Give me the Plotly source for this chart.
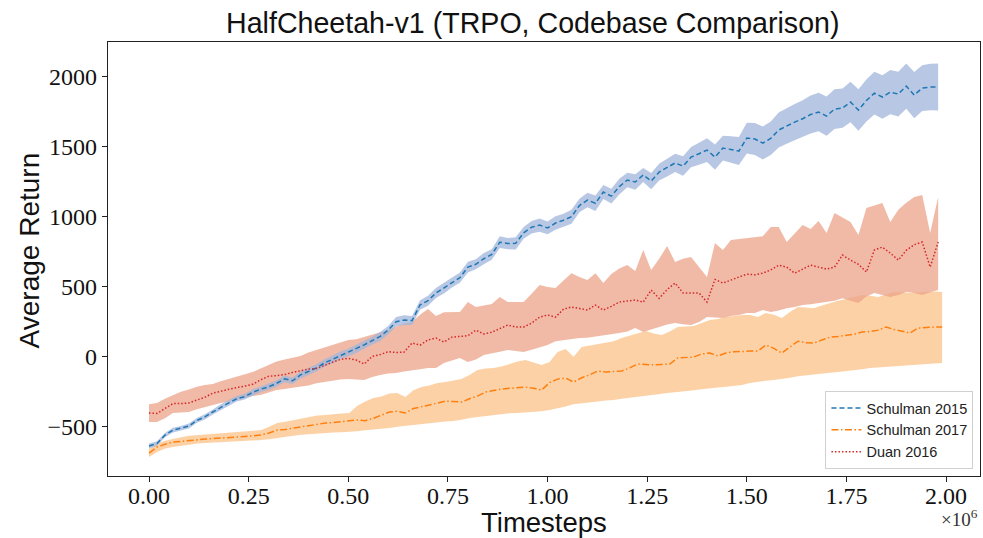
import plotly.graph_objects as go

# ---------------- data ----------------
STEP = 20000  # sampling interval of the training curves (timesteps)

schulman2015_mean = [
    -638, -620, -560, -524, -510, -495, -455, -430, -395, -360,
    -330, -300, -285, -255, -232, -215, -190, -158, -172, -130,
    -105, -80, -45, -20, 10, 30, 55, 85, 115, 145,
    190, 250, 262, 258, 370, 400, 455, 490, 530, 565,
    640, 660, 700, 730, 818, 808, 810, 885, 925, 940,
    920, 955, 975, 1000, 1080, 1119, 1096, 1176, 1147, 1215,
    1262, 1248, 1298, 1255, 1319, 1350, 1384, 1362, 1426, 1450,
    1476, 1426, 1490, 1480, 1469, 1562, 1555, 1526, 1560, 1619,
    1650, 1676, 1700, 1730, 1748, 1719, 1769, 1776, 1819, 1762,
    1830, 1883, 1855, 1890, 1876, 1933, 1869, 1919, 1926, 1926,
]
schulman2015_spread = [
    18, 16, 15, 17, 16, 18, 17, 19, 18, 20,
    20, 19, 21, 22, 20, 23, 22, 24, 23, 25,
    24, 26, 25, 27, 28, 27, 29, 30, 28, 32,
    30, 33, 35, 32, 34, 36, 35, 38, 36, 37,
    38, 36, 40, 38, 42, 40, 44, 42, 45, 47,
    45, 48, 46, 50, 48, 52, 55, 50, 53, 56,
    52, 55, 50, 58, 60, 62, 65, 70, 72, 78,
    85, 90, 88, 95, 100, 110, 115, 118, 120, 125,
    128, 130, 132, 135, 138, 140, 142, 140, 145, 148,
    150, 152, 155, 158, 160, 162, 165, 163, 166, 168,
]

duan2016_mean = [
    -402, -405, -370, -335, -335, -330, -310, -290, -260, -245,
    -232, -220, -210, -197, -165, -140, -135, -128, -112, -100,
    -88, -85, -60, -40, -20, -12, -24, -52, 2, 15,
    36, 30, 33, 98, 83, 120, 133, 105, 140, 145,
    150, 190, 162, 175, 200, 226, 212, 212, 240, 283,
    298, 283, 340, 355, 345, 333, 369, 333, 360, 390,
    398, 405, 390, 476, 417, 480, 526, 455, 455, 455,
    390, 552, 526, 550, 569, 590, 585, 597, 620, 654,
    640, 597, 625, 654, 640, 626, 640, 726, 690, 660,
    605, 762, 783, 740, 690, 760, 800, 819, 640, 819,
]
duan2016_upper = [
    -339, -330, -300, -273, -250, -235, -215, -202, -195, -175,
    -160, -145, -130, -110, -85, -60, -35, -20, -5, 5,
    30, 48, 65, 85, 100, 119, 125, 140, 155, 170,
    190, 215, 238, 248, 300, 340, 290, 318, 318, 320,
    390, 355, 365, 376, 426, 390, 390, 390, 450, 512,
    498, 490, 545, 597, 570, 548, 597, 526, 590, 630,
    655, 612, 762, 619, 700, 790, 676, 700, 712, 640,
    569, 812, 762, 833, 840, 848, 855, 860, 926, 926,
    819, 880, 940, 912, 969, 883, 1026, 995, 962, 869,
    1062, 1080, 1098, 962, 1050, 1100, 1140, 1155, 883, 1141,
]
duan2016_lower = [
    -467, -467, -440, -402, -400, -395, -375, -359, -345, -330,
    -320, -309, -295, -280, -273, -255, -238, -230, -222, -216,
    -205, -190, -181, -170, -162, -160, -162, -167, -145, -130,
    -120, -116, -105, -95, -90, -81, -81, -45, -30, -10,
    -38, -20, 12, 25, 35, 48, 40, 33, 50, 69,
    83, 110, 119, 125, 133, 135, 140, 150, 160, 169,
    180, 205, 176, 190, 212, 230, 240, 232, 226, 248,
    283, 280, 276, 290, 298, 312, 312, 333, 320, 330,
    347, 355, 369, 375, 380, 390, 400, 417, 400, 383,
    430, 455, 440, 426, 440, 462, 455, 440, 460, 476,
]

ORANGE_LAST_STEP = 1990000
schulman2017_mean = [
    -688, -645, -625, -610, -605, -598, -592, -588, -585, -582,
    -578, -574, -570, -565, -559, -545, -524, -520, -510, -500,
    -490, -485, -474, -470, -462, -458, -452, -457, -440, -417,
    -395, -390, -402, -370, -360, -345, -331, -317, -320, -324,
    -300, -281, -252, -240, -231, -226, -222, -217, -225, -238,
    -185, -160, -152, -181, -150, -130, -102, -109, -105, -102,
    -80, -52, -55, -59, -55, -52, -9, -5, -2, 20,
    26, 5, 26, 35, 40, 40, 40, 83, 60, 26,
    70, 111, 100, 97, 120, 140, 145, 155, 160, 176,
    180, 190, 212, 195, 183, 169, 205, 210, 212, 212,
]
schulman2017_upper = [
    -660, -620, -600, -585, -575, -565, -560, -556, -552, -548,
    -545, -540, -535, -528, -524, -500, -474, -465, -455, -440,
    -430, -420, -417, -410, -405, -402, -350, -320, -295, -285,
    -262, -259, -288, -240, -216, -205, -188, -180, -170, -160,
    -130, -95, -85, -81, -70, -52, -35, -24, -40, -59,
    -38, 33, 55, 0, 69, 80, 90, 97, 110, 133,
    150, 169, 183, 165, 155, 180, 212, 215, 219, 240,
    262, 270, 283, 290, 298, 298, 283, 312, 300, 276,
    320, 355, 350, 347, 365, 383, 400, 412, 425, 440,
    435, 426, 445, 462, 458, 455, 458, 462, 465, 462,
]
schulman2017_lower = [
    -717, -680, -655, -645, -635, -628, -620, -617, -614, -612,
    -610, -607, -603, -598, -595, -590, -580, -574, -565, -558,
    -552, -548, -545, -542, -540, -538, -532, -526, -520, -514,
    -510, -500, -492, -488, -482, -476, -468, -462, -460, -450,
    -438, -431, -425, -418, -410, -404, -402, -398, -395, -390,
    -381, -370, -355, -340, -331, -325, -320, -312, -310, -300,
    -290, -282, -274, -270, -265, -258, -252, -248, -240, -232,
    -224, -220, -215, -210, -202, -188, -180, -172, -167, -160,
    -150, -140, -131, -125, -120, -115, -110, -105, -98, -90,
    -81, -78, -74, -70, -67, -62, -58, -52, -48, -45,
]

x_tick_values = [0.0, 0.25, 0.5, 0.75, 1.0, 1.25, 1.5, 1.75, 2.0]  # x 1e6
x_tick_labels = ["0.00", "0.25", "0.50", "0.75", "1.00", "1.25", "1.50", "1.75", "2.00"]
y_tick_values = [-500, 0, 500, 1000, 1500, 2000]
y_tick_labels = ["\u2212500", "0", "500", "1000", "1500", "2000"]

series_names = ["Schulman 2015", "Schulman 2017", "Duan 2016"]

# ---------------- derived ----------------
t_blue = [i * STEP for i in range(len(schulman2015_mean))]
t_red = [i * STEP for i in range(len(duan2016_mean))]
n_or = len(schulman2017_mean)
t_orange = [ORANGE_LAST_STEP * i / (n_or - 1) for i in range(n_or)]
blue_up = [m + s for m, s in zip(schulman2015_mean, schulman2015_spread)]
blue_lo = [m - s for m, s in zip(schulman2015_mean, schulman2015_spread)]

BLUE_LINE = "#1f77b4"
ORANGE_LINE = "#ff7f0e"
RED_LINE = "#d62728"
BLUE_FILL = "rgba(160,181,219,0.75)"
ORANGE_FILL = "rgba(252,194,136,0.75)"
RED_FILL = "rgba(235,163,136,0.75)"

fig = go.Figure()


def add_band(t, lo, up, color):
    fig.add_trace(go.Scatter(
        x=list(t) + list(t)[::-1], y=list(up) + list(lo)[::-1],
        fill="toself", fillcolor=color, line=dict(width=0),
        mode="lines", hoverinfo="skip", showlegend=False))


add_band(t_orange, schulman2017_lower, schulman2017_upper, ORANGE_FILL)
add_band(t_red, duan2016_lower, duan2016_upper, RED_FILL)
add_band(t_blue, blue_lo, blue_up, BLUE_FILL)

fig.add_trace(go.Scatter(x=t_blue, y=schulman2015_mean, mode="lines", name=series_names[0],
                         line=dict(color=BLUE_LINE, width=1.5, dash="5px,3px")))
fig.add_trace(go.Scatter(x=t_orange, y=schulman2017_mean, mode="lines", name=series_names[1],
                         line=dict(color=ORANGE_LINE, width=1.5, dash="7px,2.5px,1.5px,2.5px")))
fig.add_trace(go.Scatter(x=t_red, y=duan2016_mean, mode="lines", name=series_names[2],
                         line=dict(color=RED_LINE, width=1.5, dash="1.5px,2px")))

SERIF = "Liberation Serif, DejaVu Serif, serif"
SANS = "Liberation Sans, Arial, sans-serif"

fig.update_layout(
    width=983, height=538,
    margin=dict(l=108, r=3, t=42, b=62, autoexpand=False),
    paper_bgcolor="white", plot_bgcolor="white",
    title=dict(text="HalfCheetah-v1 (TRPO, Codebase Comparison)",
               x=0.542, xanchor="center", y=0.958, yanchor="middle",
               font=dict(family=SANS, size=28.6, color="#111")),
    xaxis=dict(range=[-102900, 2085000], tickvals=[v * 1e6 for v in x_tick_values],
               ticktext=x_tick_labels, ticks="outside", ticklen=5, tickcolor="#222",
               showline=True, mirror=True, linecolor="#222", linewidth=1.2,
               showgrid=False, zeroline=False, automargin=False, ticklabelstandoff=-7,
               tickfont=dict(family=SERIF, size=24, color="#111")),
    yaxis=dict(range=[-852, 2248], tickvals=y_tick_values, ticktext=y_tick_labels,
               ticks="outside", ticklen=5, tickcolor="#222",
               showline=True, mirror=True, linecolor="#222", linewidth=1.2,
               showgrid=False, zeroline=False, automargin=False,
               tickfont=dict(family=SERIF, size=24, color="#111")),
    legend=dict(x=0.9925, y=0.016, xanchor="right", yanchor="bottom",
                bgcolor="white", bordercolor="#d0d0d0", borderwidth=1,
                font=dict(family=SANS, size=14.5, color="#222"),
                tracegroupgap=0, itemwidth=30),
    showlegend=True,
)

fig.add_annotation(text="Timesteps", xref="paper", yref="paper", x=0.5, y=-0.106,
                   xanchor="center", yanchor="middle", showarrow=False,
                   font=dict(family=SANS, size=27.5, color="#111"))
fig.add_annotation(text="Average Return", xref="paper", yref="paper", x=-0.0905, y=0.52,
                   xanchor="center", yanchor="middle", textangle=-90, showarrow=False,
                   font=dict(family=SANS, size=28, color="#111"))
fig.add_annotation(text="\u00d710<sup>6</sup>", xref="paper", yref="paper", x=1.0, y=-0.097,
                   xanchor="right", yanchor="middle", showarrow=False,
                   font=dict(family=SERIF, size=19, color="#333"))

fig.write_html("out.html", config={"displayModeBar": False},
               post_script="document.body.style.margin='0';document.body.style.padding='0';")
